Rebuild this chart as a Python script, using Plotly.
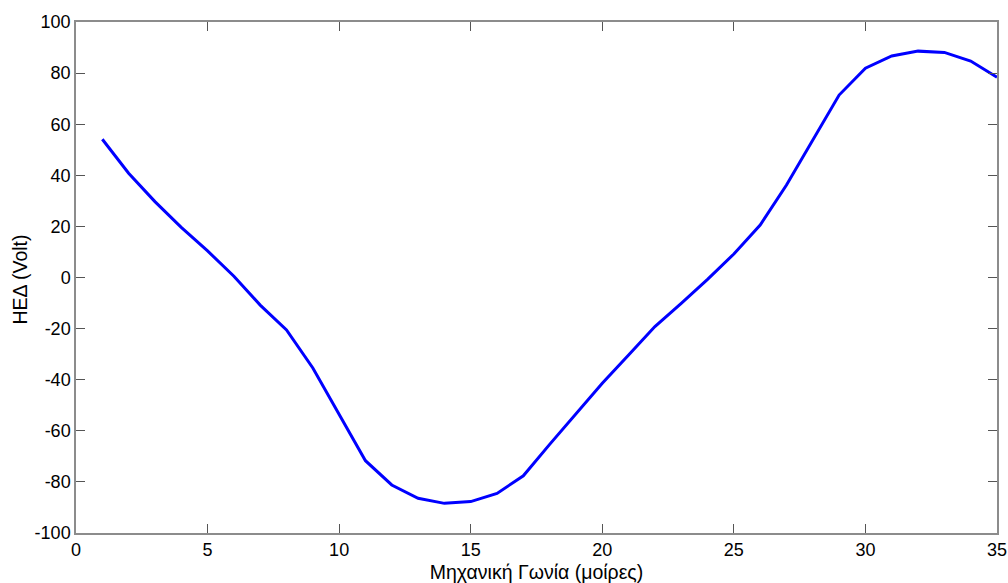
import plotly.graph_objects as go

# Mechanical angle (degrees) and back-EMF (Volt)
angle_deg = list(range(1, 36))
emf_volt = [54.1, 40.8, 29.7, 19.6, 10.4, 0.5, -10.8, -20.5, -35.4, -53.5,
            -71.7, -81.2, -86.4, -88.4, -87.7, -84.5, -77.6, -65.3, -53.2, -41.4,
            -30.3, -19.2, -10.1, -0.7, 9.2, 20.5, 36.2, 53.8, 71.4, 81.9,
            86.7, 88.6, 88.1, 84.7, 78.4]

x_ticks = [0, 5, 10, 15, 20, 25, 30, 35]
y_ticks = [-100, -80, -60, -40, -20, 0, 20, 40, 60, 80, 100]

FONT = "Liberation Sans, Arial, sans-serif"

fig = go.Figure()
fig.add_trace(go.Scatter(x=angle_deg, y=emf_volt, mode="lines",
                         line=dict(color="#0000ff", width=3), showlegend=False))

axis_common = dict(
    showgrid=False, zeroline=False, showline=True, mirror="ticks",
    linecolor="#8c8c8c", linewidth=1.5, automargin=False,
    ticks="inside", ticklen=9, tickwidth=1, tickcolor="#555555",
    tickfont=dict(family=FONT, size=18, color="#000000"),
)

fig.update_layout(
    width=1008, height=583,
    margin=dict(l=76, r=11, t=22, b=50),
    paper_bgcolor="white", plot_bgcolor="white",
    xaxis=dict(range=[0, 35], tickvals=x_ticks, ticktext=[str(v) for v in x_ticks],
               title=dict(text="Μηχανική Γωνία (μοίρες)",
                          font=dict(family=FONT, size=19.5, color="#000000")),
               **axis_common),
    yaxis=dict(range=[-100, 100], tickvals=y_ticks, ticktext=[str(v) for v in y_ticks],
               **axis_common),
)

# y-axis title placed as a rotated annotation left of the tick labels
fig.add_annotation(text="ΗΕΔ (Volt)", xref="paper", yref="paper", x=0, y=0.5,
                   xanchor="center", yanchor="middle", xshift=-57, yshift=-2,
                   textangle=-90, showarrow=False,
                   font=dict(family=FONT, size=19.5, color="#000000"))

fig.write_html("out.html")
